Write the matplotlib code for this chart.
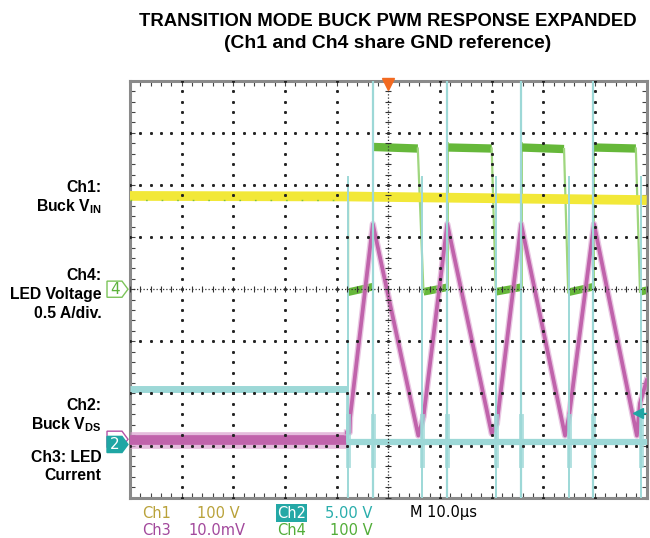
import numpy as np
import matplotlib
matplotlib.use("Agg")
import matplotlib.pyplot as plt
from matplotlib.patches import Polygon

plt.rcParams['mathtext.fontset'] = 'custom'
plt.rcParams['mathtext.rm'] = 'Liberation Sans:bold'
plt.rcParams['mathtext.bf'] = 'Liberation Sans:bold'

W, H, DPI = 650, 538, 100
SANS = 'Liberation Sans'

# ---- scope frame: x in us (10 us/div), y in divisions ----
T_MIN, T_MAX = 0.0, 100.0
V_MIN, V_MAX = -4.0, 4.0
TRIG_POS = 50.0
TRIG_LEVEL = -2.38

# Ch1: buck input voltage
ch1_t = [0.0, 42.0, 100.0]
ch1_v = [1.79, 1.78, 1.71]

# Ch2: buck VDS
ch2_idle_t = [0.0, 42.0]
ch2_idle_v = [-1.92, -1.92]
ch2_run_t = [42.0, 100.0]
ch2_run_v = [-2.93, -2.93]
ch2_on_spikes = [47.0, 61.4, 75.6, 89.7]
ch2_off_spikes = [42.1, 56.6, 70.8, 85.0, 98.9]
ch2_off_top = 2.15

# Ch3: LED current
ch3_idle_t = [0.0, 42.0]
ch3_idle_v = [-2.9, -2.9]
ch3_t = [42.0, 42.5, 42.6, 47.0, 55.8, 56.8, 61.4, 70.0, 71.0, 75.7,
         84.2, 85.0, 89.8, 98.1, 98.7, 100.0]
ch3_v = [-2.75, -2.75, -2.46, 1.25, -2.81, -2.45, 1.25, -2.77, -2.58, 1.25,
         -2.81, -2.42, 1.25, -2.81, -2.19, -1.75]

# Ch4: LED voltage
ch4_idle_v = 1.75
ch4_switch_t = 42.1
ch4_rise = [47.1, 61.6, 75.8, 89.8]
ch4_fall_start = [55.7, 70.0, 84.0, 97.9]
ch4_fall_end = [56.8, 70.8, 84.8, 98.7]
ch4_high_v0 = [2.73, 2.72, 2.72, 2.72]
ch4_high_v1 = [2.70, 2.70, 2.69, 2.70]
ch4_low_v0 = [-0.06, -0.05, -0.05, -0.06, -0.05]
ch4_low_v1 = [0.05, 0.04, 0.04, 0.05, -0.02]

YELLOW = '#f2e838'
GREEN = '#66b83a'
GREEN_EDGE = '#9fd67e'
MAGENTA = '#c063ab'
MAGENTA_LT = '#dba0cf'
CYAN = '#9dd8d7'
TEAL = '#1fa6a4'


def fx(px):
    return px / W


def fy(py):
    return 1 - py / H


fig = plt.figure(figsize=(W / DPI, H / DPI), dpi=DPI)
ax = fig.add_axes([fx(130), (H - 497.6) / H, 516.7 / W, 416.8 / H])
ax.set_xlim(T_MIN, T_MAX)
ax.set_ylim(V_MIN, V_MAX)
for s in ax.spines.values():
    s.set_color('#8a8a8a')
    s.set_linewidth(2.2)
ax.set_xticks(np.arange(0, 100.01, 2))
ax.set_yticks(np.arange(-4, 4.01, 0.2))
ax.tick_params(direction='in', length=3.5, width=0.8, color='#444',
               top=True, right=True, labelbottom=False, labelleft=False)

# ---- graticule ----
gy = np.arange(-4, 4.01, 0.2)
gx = np.arange(0, 100.01, 2)
for x in range(10, 100, 10):
    if x == 50:
        continue
    ax.plot(np.full(len(gy), x), gy, 's', ms=1.1, color='#222', zorder=6)
for y in range(-3, 4):
    if y == 0:
        continue
    ax.plot(gx, np.full(len(gx), y), 's', ms=1.1, color='#222', zorder=6)
ax.axvline(50, ls=(0, (1, 1.6)), lw=0.9, color='#333', zorder=6)
ax.axhline(0, ls=(0, (1, 1.6)), lw=0.9, color='#333', zorder=6)
ax.plot(np.full(len(gy), 50), gy, '_', ms=4, mew=0.8, color='#333', zorder=6)
ax.plot(gx, np.zeros(len(gx)), '|', ms=4, mew=0.8, color='#333', zorder=6)

# ---- Ch4 (green) ----
low_t0 = [ch4_switch_t] + ch4_fall_end
low_t1 = ch4_rise + [T_MAX]
ax.plot([ch4_switch_t, ch4_switch_t], [ch4_idle_v, ch4_low_v0[0]],
        color=GREEN_EDGE, lw=1.0, zorder=2)
for i in range(len(low_t0)):
    ax.plot([low_t0[i], low_t1[i]], [ch4_low_v0[i], ch4_low_v1[i]],
            color=GREEN, lw=5.5, solid_capstyle='butt', zorder=2)
for i in range(len(ch4_rise)):
    ax.plot([ch4_rise[i], ch4_rise[i]], [ch4_low_v1[i], ch4_high_v0[i] + 0.08],
            color=GREEN_EDGE, lw=1.4, zorder=2)
    ax.plot([ch4_rise[i], ch4_fall_start[i]], [ch4_high_v0[i], ch4_high_v1[i]],
            color=GREEN, lw=6, solid_capstyle='butt', zorder=2)
    ax.plot([ch4_fall_start[i], ch4_fall_end[i]],
            [ch4_high_v1[i], ch4_low_v0[i + 1]],
            color=GREEN_EDGE, lw=1.6, zorder=2)

# ---- Ch3 (magenta) ----
ax.plot(ch3_idle_t, ch3_idle_v, color=MAGENTA_LT, lw=12,
        solid_capstyle='butt', alpha=0.7, zorder=3)
ax.plot(ch3_idle_t, ch3_idle_v, color=MAGENTA, lw=7,
        solid_capstyle='butt', zorder=3)
ax.plot(ch3_t, ch3_v, color=MAGENTA_LT, lw=4.6, alpha=0.6, zorder=3)
ax.plot(ch3_t, ch3_v, color=MAGENTA, lw=2.7, zorder=3)

# ---- Ch1 (yellow) ----
ax.plot(ch1_t, ch1_v, color=YELLOW, lw=7, solid_capstyle='butt', zorder=4)
ax.plot([0, ch4_switch_t], [ch4_idle_v - 0.04] * 2, color=GREEN, lw=1.0,
        ls=(0, (1.2, 10)), alpha=0.8, zorder=4)

# ---- Ch2 (cyan) ----
ax.plot(ch2_idle_t, ch2_idle_v, color=CYAN, lw=5, solid_capstyle='butt', zorder=5)
ax.plot([ch2_idle_t[-1], ch2_run_t[0]], [ch2_idle_v[-1], ch2_run_v[0]],
        color=CYAN, lw=1.2, zorder=5)
ax.plot(ch2_run_t, ch2_run_v, color=CYAN, lw=4.5, solid_capstyle='butt', zorder=5)
for t in ch2_on_spikes:
    ax.plot([t, t], [V_MIN, V_MAX], color=CYAN, lw=1.6, zorder=5)
    ax.plot([t, t], [ch2_run_v[0] - 0.45, ch2_run_v[0] + 0.5], color=CYAN,
            lw=3.5, alpha=0.8, zorder=5)
for t in ch2_off_spikes:
    ax.plot([t, t], [V_MIN, ch2_off_top], color=CYAN, lw=1.4, zorder=5)
    ax.plot([t, t], [ch2_run_v[0] - 0.45, ch2_run_v[0] + 0.5], color=CYAN,
            lw=3.5, alpha=0.8, zorder=5)

# trigger markers
ax.plot([98.3], [TRIG_LEVEL], '<', ms=7, color=TEAL, zorder=7, clip_on=False)
ax.plot([98.6, T_MAX], [TRIG_LEVEL, TRIG_LEVEL], color=TEAL, lw=1, zorder=7)
ax.plot([TRIG_POS], [3.93], 'v', ms=8, color='#f26a21', zorder=8, clip_on=False)

# ---- ground reference markers on left edge ----
ytr = ax.get_yaxis_transform()


def ground_marker(v, label, face, edge, txt, z):
    h = 0.155
    pts = [(-0.0445, v - h), (-0.0155, v - h), (-0.0039, v),
           (-0.0155, v + h), (-0.0445, v + h)]
    ax.add_patch(Polygon(pts, closed=True, facecolor=face, edgecolor=edge,
                         lw=1.0, transform=ytr, clip_on=False, zorder=z))
    if label:
        ax.text(-0.029, v, label, transform=ytr, ha='center', va='center',
                fontsize=11, color=txt, family='DejaVu Sans', zorder=z + 1,
                clip_on=False)


ground_marker(0.0, '4', 'white', '#7cc45a', '#5cb23c', 8)
ground_marker(-2.88, '', 'white', '#b452a6', '#b452a6', 8)
ground_marker(-2.98, '2', TEAL, TEAL, 'white', 9)

# ---- titles ----
fig.text(fx(388), fy(21), 'TRANSITION MODE BUCK PWM RESPONSE EXPANDED',
         ha='center', va='center', fontsize=13.3, fontweight='bold', family=SANS)
fig.text(fx(388), fy(43), '(Ch1 and Ch4 share GND reference)',
         ha='center', va='center', fontsize=13.9, fontweight='bold', family=SANS)

left_labels = [
    ('Ch1:', 188), (r'Buck V$_{\rm IN}$', 207),
    ('Ch4:', 275), ('LED Voltage', 294), ('0.5 A/div.', 313),
    ('Ch2:', 406), (r'Buck V$_{\rm DS}$', 425),
    ('Ch3: LED', 457), ('Current', 476),
]
for txt, py in left_labels:
    fig.text(fx(101.5), fy(py), txt, ha='right', va='center', fontsize=11.3,
             fontweight='bold', family=SANS)

# ---- channel readout ----
RD = 'DejaVu Sans'
FS = 10.5
row1 = fy(517.5)
row2 = 0.0
fig.text(fx(142.5), row1, 'Ch1', color='#b9a23a', fontsize=FS, family=RD, va='baseline')
fig.text(fx(197), row1, '100 V', color='#b9a23a', fontsize=FS, family=RD, va='baseline')
fig.text(fx(277), row1, 'Ch2', color='white', fontsize=FS, family=RD, va='baseline',
         bbox=dict(boxstyle='square,pad=0.1', fc='#24a8a6', ec='none'))
fig.text(fx(325), row1, '5.00 V', color='#2aaeac', fontsize=FS, family=RD, va='baseline')
fig.text(fx(410), row1, 'M 10.0\u00b5s', color='black', fontsize=FS, family=RD, va='baseline')
fig.text(fx(142.5), row2, 'Ch3', color='#a2489c', fontsize=FS, family=RD, va='bottom')
fig.text(fx(188), row2, '10.0mV', color='#a2489c', fontsize=FS, family=RD, va='bottom')
fig.text(fx(277), row2, 'Ch4', color='#52ad38', fontsize=FS, family=RD, va='bottom')
fig.text(fx(330), row2, '100 V', color='#52ad38', fontsize=FS, family=RD, va='bottom')

fig.savefig('out.png', dpi=DPI)
